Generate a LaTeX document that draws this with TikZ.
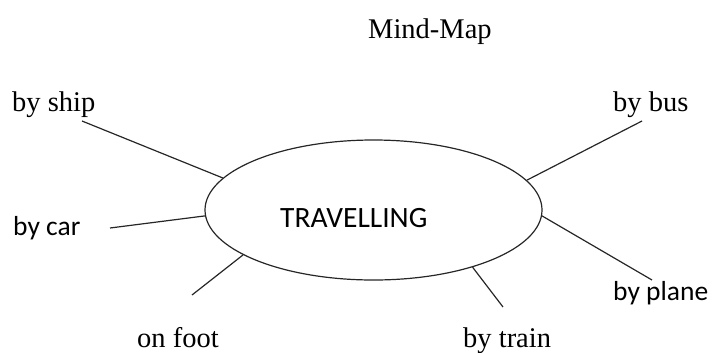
\documentclass[tikz,border=0pt]{standalone}
\usepackage{fontspec}
\setmainfont{Liberation Serif}
\newfontfamily\calib{Carlito}
\usetikzlibrary{shapes.geometric}
\begin{document}
\begin{tikzpicture}[x=1bp,y=-1bp,
  ser/.style={inner sep=0pt,anchor=base west,font=\fontsize{28.5bp}{30bp}\selectfont},
  san/.style={inner sep=0pt,anchor=base west,font=\calib\fontsize{27.5bp}{30bp}\selectfont},
  conn/.style={line width=1.2bp,black!85}]
\useasboundingbox (0,0) rectangle (715,352);
\node[ellipse,draw,line width=1.2bp,black!85,minimum width=337bp,minimum height=140bp,inner sep=0pt] (e) at (373.5,210) {};
\node[san,font=\calib\fontsize{29.5bp}{30bp}\selectfont] (t) at (280,227) {TRAVELLING};
\node[ser] (title) at (368,38) {Mind-Map};
\node[ser] (ship) at (12,111) {by ship};
\node[ser] (bus) at (613,111) {by bus};
\node[san] (car) at (13,235) {by car};
\node[san] (plane) at (613,300) {by plane};
\node[ser] (foot) at (137,347) {on foot};
\node[ser] (train) at (463,347) {by train};
\coordinate (cship) at (82,121);
\coordinate (cbus) at (642,121);
\coordinate (ccar) at (110,228);
\coordinate (cfoot) at (192,295);
\coordinate (cplane) at (652,280);
\coordinate (ctrain) at (503,307);
\draw[conn] (e.168.9) -- (cship);
\draw[conn] (e.11.6) -- (cbus);
\draw[conn] (e.182.7) -- (ccar);
\draw[conn] (e.199.2) -- (cfoot);
\draw[conn] (e.-2.7) -- (cplane);
\draw[conn] (e.-30.6) -- (ctrain);
\end{tikzpicture}
\end{document}
